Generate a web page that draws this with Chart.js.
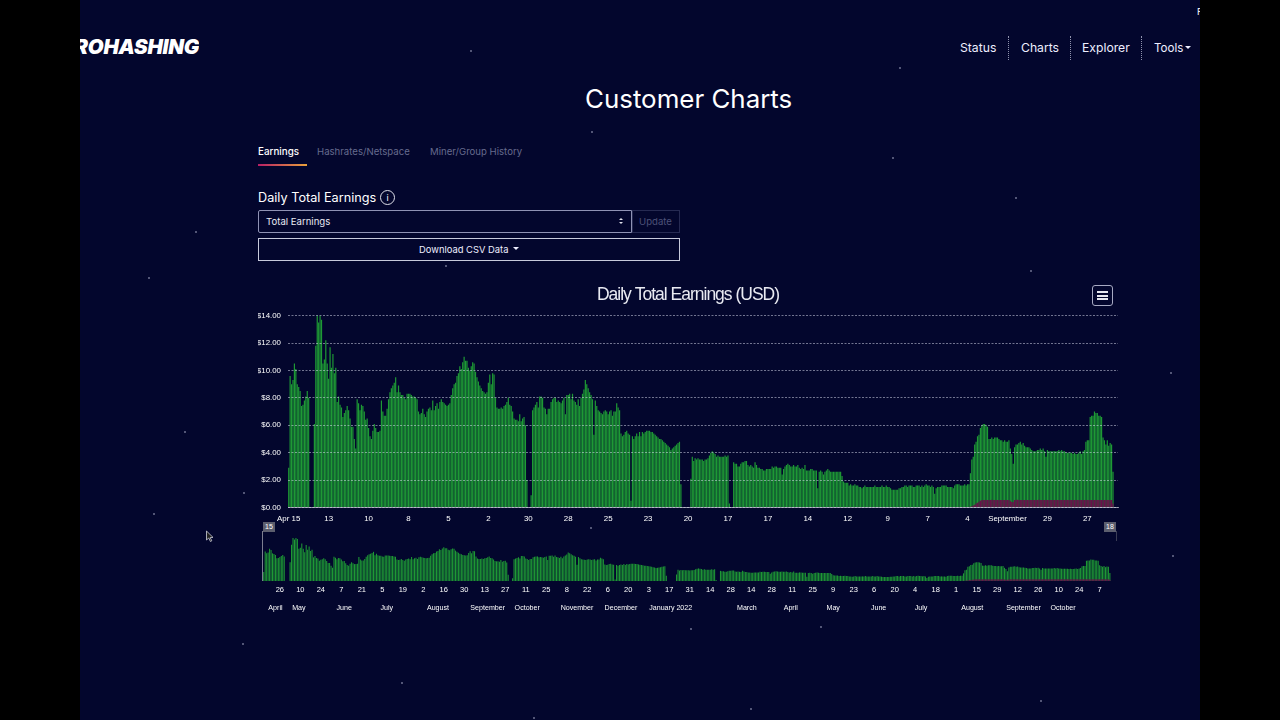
<!DOCTYPE html>
<html>
<head>
<meta charset="utf-8">
<script src="https://cdn.jsdelivr.net/npm/chart.js@4"></script>
<style>
html,body{margin:0;padding:0;width:1280px;height:720px;overflow:hidden;background:#000}
#page{position:absolute;left:0;top:0;width:1280px;height:720px;background:#03062d;font-family:Inter,"Noto Sans",sans-serif;color:#fff}
.bar{position:absolute;top:0;width:80px;height:720px;background:#000;z-index:9}
.t{position:absolute;white-space:nowrap;line-height:1}
.sep{position:absolute;top:36px;height:24px;border-left:1px dotted #8f92ad}
.star{position:absolute;width:2px;height:2px;border-radius:50%;background:#6f7290}
.box{position:absolute;box-sizing:border-box}
canvas{position:absolute;display:block}
.handle{position:absolute;top:522px;width:12px;height:10px;background:#5c5e6e;color:#fff;font:7px "Liberation Sans",sans-serif;text-align:center;line-height:10px}
.hline{position:absolute;top:531px;width:1px;background:#7c7e90}
</style>
</head>
<body>
<div id="page">
  <div id="stars"></div>
  <div class="t" style="left:79px;top:37px;font-size:20.5px;font-weight:900;font-style:italic;letter-spacing:-.25px;width:120px;overflow:hidden;direction:rtl;text-align:left">ROHASHING</div>
  <div class="t" style="left:1197px;top:7px;font-size:9px">F</div>
  <div class="t" style="left:960px;top:42px;font-size:12.2px;color:#eef">Status</div>
  <div class="sep" style="left:1008px"></div>
  <div class="t" style="left:1021px;top:42px;font-size:12.2px;color:#eef">Charts</div>
  <div class="sep" style="left:1070px"></div>
  <div class="t" style="left:1082px;top:42px;font-size:12.2px;color:#eef">Explorer</div>
  <div class="sep" style="left:1141px"></div>
  <div class="t" style="left:1154px;top:42.5px;font-size:11.6px;color:#eef">Tools</div>
  <div class="box" style="left:1185px;top:46px;border:3px solid transparent;border-top-color:#eef;border-bottom:0"></div>

  <div class="t" style="left:585px;top:86px;font-size:25.9px;font-weight:400">Customer Charts</div>

  <div class="t" style="left:258px;top:147px;font-size:9.8px;font-weight:500">Earnings</div>
  <div class="t" style="left:317px;top:147px;font-size:9.6px;color:#666b8e">Hashrates/Netspace</div>
  <div class="t" style="left:430px;top:147px;font-size:9.6px;color:#666b8e">Miner/Group History</div>
  <div class="box" style="left:258px;top:164px;width:49px;height:2px;background:linear-gradient(90deg,#b81f66,#e9a13b)"></div>

  <div class="t" style="left:258px;top:192px;font-size:12.7px">Daily Total Earnings</div>
  <div class="box t" style="left:380px;top:190px;width:15px;height:15px;border:1px solid #dfe0ea;border-radius:50%;font-size:9px;text-align:center;line-height:13px">i</div>

  <div class="box" style="left:258px;top:210px;width:374px;height:23px;border:1px solid #8f92b4;border-radius:2px 0 0 2px"></div>
  <div class="t" style="left:266px;top:217px;font-size:9.6px;color:#e8e9f2">Total Earnings</div>
  <div class="box" style="left:619px;top:218px;border:2.5px solid transparent;border-bottom-color:#dfe0ea;border-top:0"></div>
  <div class="box" style="left:619px;top:222px;border:2.5px solid transparent;border-top-color:#dfe0ea;border-bottom:0"></div>
  <div class="box" style="left:632px;top:210px;width:48px;height:23px;border:1px solid #262a52"></div>
  <div class="t" style="left:639px;top:217px;font-size:9.6px;color:#4d5178">Update</div>

  <div class="box" style="left:258px;top:238px;width:422px;height:23px;border:1px solid #c8cadc"></div>
  <div class="t" style="left:419px;top:245px;font-size:9.4px;color:#eef">Download CSV Data</div>
  <div class="box" style="left:513px;top:247px;border:3px solid transparent;border-top-color:#eef;border-bottom:0"></div>

  <canvas id="mainChart" style="left:250px;top:280px;width:876px;height:245px" width="876" height="245"></canvas>

  <div class="box" style="left:1092px;top:285px;width:21px;height:21px;border:1px solid #a7a9c2;border-radius:3px"></div>
  <div class="box" style="left:1097px;top:291px;width:11px;height:2px;background:#e6e7f0"></div>
  <div class="box" style="left:1097px;top:294.5px;width:11px;height:2px;background:#e6e7f0"></div>
  <div class="box" style="left:1097px;top:298px;width:11px;height:2px;background:#e6e7f0"></div>

  <canvas id="navChart" style="left:263px;top:530px;width:852px;height:90px" width="852" height="90"></canvas>
  <div class="hline" style="left:262px;height:50px"></div>
  <div class="hline" style="left:1116px;height:10px;background:#3a3c55"></div>
  <div class="handle" style="left:263px">15</div>
  <div class="handle" style="left:1104px">18</div>

  <svg style="position:absolute;left:205px;top:530px" width="10" height="14" viewBox="0 0 10 14">
    <path d="M1.5 1 L1.5 10 L3.8 8 L5.4 11.5 L6.8 10.8 L5.2 7.6 L8 7.4 Z" fill="#222" stroke="#cfd0da" stroke-width=".8"/>
  </svg>

  <div class="bar" style="left:0"></div>
  <div class="bar" style="left:1200px"></div>
</div>
<script>
// Daily total earnings in USD, one array per 28-day stretch between main-axis ticks
const earningsApr21 = [2.9,9.6,9.0,9.3,10.5,10.1,9.0,8.8,8.5,7.4,7.5,7.8,8.1,8.5,8.0,0,0,0,6.1,11.8,14.0,13.5,14.0,13.7,10.5,10.8,12.2,10.5];
const earningsMay21 = [9.4,11.7,10.2,11.2,9.8,10.2,7.7,8.1,7.5,7.3,6.6,6.9,7.1,7.4,7.1,6.5,5.9,5.9,5.0,4.3,7.9,7.6,7.1,7.5,7.4,7.0,6.4,6.5];
const earningsJun21 = [5.8,5.2,5.0,5.6,6.1,5.8,5.5,5.5,5.6,7.8,7.0,6.7,6.7,7.2,7.9,8.4,8.7,8.9,9.1,9.5,8.4,8.9,8.4,8.2,8.2,8.0,7.9,8.3];
const earningsJul21 = [8.3,8.3,8.2,8.1,8.1,8.0,7.9,7.0,6.8,6.9,7.2,6.8,6.6,7.0,7.2,7.3,7.1,7.8,7.1,7.4,7.6,7.2,7.7,7.9,7.7,7.6,7.5,7.4];
const earningsAug21 = [7.5,7.6,8.2,8.7,9.0,9.1,9.6,9.8,10.3,10.1,10.6,11.0,10.7,10.7,10.2,10.0,10.3,10.6,10.5,9.9,9.5,9.2,8.9,8.7,8.5,8.4,8.3,8.4];
const earningsSep21 = [9.1,9.7,9.0,9.8,9.7,8.0,7.3,7.2,7.2,7.3,7.2,7.4,7.5,7.7,8.0,7.5,7.4,7.0,6.5,6.4,6.4,6.3,6.8,6.3,6.5,6.6,6.0,2.0];
const earningsOct21 = [0,0,0.9,7.1,7.3,7.5,7.7,7.3,8.1,8.1,8.0,7.3,7.2,6.8,7.2,7.2,7.7,7.9,8.0,8.0,7.7,7.8,7.7,7.6,7.8,8.0,6.8,8.2];
const earningsNov21 = [8.2,8.3,7.9,8.3,7.8,7.7,7.5,7.9,7.4,8.0,8.3,8.6,9.3,9.0,8.7,8.4,8.2,7.9,5.3,7.8,7.4,7.1,7.0,6.9,6.8,7.0,7.1,7.0];
const earningsDec21 = [6.8,7.0,7.1,6.7,7.0,7.0,7.6,7.3,7.1,5.4,5.2,5.3,5.5,5.6,5.4,5.3,0.5,5.2,5.0,5.2,5.4,5.2,5.5,5.2,5.5,5.4,5.5,5.6];
const earningsJan22 = [5.6,5.6,5.5,5.5,5.4,5.3,5.2,5.1,5.0,5.0,4.9,4.8,4.7,4.6,4.5,4.4,4.2,4.3,4.4,4.5,4.6,4.7,4.8,1.7,0,0,0,0];
const earningsFeb22 = [0,0,2.1,3.7,3.4,3.6,3.5,3.6,3.5,3.5,3.5,3.4,3.5,3.5,3.6,3.8,4.0,4.1,4.0,3.9,3.7,3.8,3.7,3.7,3.7,3.7,3.8,3.7];
const earningsMar22 = [3.8,0.3,0,0,3.3,3.2,3.2,3.0,3.0,3.2,3.3,3.3,3.4,3.4,3.1,3.0,3.1,3.0,2.9,3.3,3.1,2.9,2.9,2.8,2.8,2.7,2.7,2.8];
const earningsApr22 = [2.8,2.8,2.8,3.0,2.9,3.0,3.0,2.9,2.9,2.9,2.4,2.8,3.0,3.1,3.2,3.1,3.0,3.0,3.1,3.0,3.0,3.1,2.9,2.8,2.9,2.8,3.1,2.7];
const earningsMay22 = [2.7,2.7,2.8,2.8,2.7,2.7,2.7,1.4,2.6,2.7,2.6,2.4,2.6,2.7,2.8,2.7,2.6,2.6,2.6,2.6,2.6,2.6,2.6,2.6,2.3,1.9,1.8,1.8];
const earningsJun22 = [1.8,1.6,1.7,1.6,1.6,1.7,1.6,1.6,1.5,1.5,1.4,1.5,1.6,1.5,1.5,1.5,1.5,1.5,1.5,1.6,1.5,1.5,1.5,1.5,1.6,1.5,1.5,1.6];
const earningsJul22 = [1.5,1.5,1.4,1.3,1.3,1.3,1.3,1.3,1.4,1.4,1.5,1.5,1.6,1.6,1.5,1.6,1.6,1.6,1.5,1.5,1.6,1.6,1.6,1.5,1.6,1.5,1.6,1.7];
const earningsAug22 = [1.6,1.6,1.5,1.6,1.5,1.0,1.4,1.5,1.5,1.5,1.6,1.6,1.6,1.6,1.5,1.5,1.5,1.5,1.4,1.6,1.7,1.7,1.7,1.6,1.6,1.6,1.7,1.6];
const earningsSep22 = [1.7,1.7,2.5,3.5,3.7,4.6,4.8,5.2,5.3,5.8,6.0,6.1,6.1,6.0,5.9,5.0,5.0,5.1,5.0,5.1,5.1,5.1,5.0,4.9,4.9,4.8,4.9,4.8];
const earningsOct22 = [4.8,4.9,4.3,3.9,3.2,4.4,4.6,4.6,4.7,4.8,4.6,4.7,4.5,4.4,4.4,4.4,4.3,4.2,4.1,4.1,4.1,4.2,4.2,4.3,4.2,4.3,4.1,3.7];
const earningsNov22 = [4.2,4.1,4.1,4.1,4.1,4.1,4.1,4.1,4.2,4.1,4.2,4.1,4.1,4.0,4.0,4.0,4.0,4.0,3.9,4.0,3.9,3.9,4.0,4.1,3.9,4.1,4.2,4.8];
const earningsDec22 = [4.9,4.9,6.6,6.7,6.7,7.0,6.9,6.9,6.7,6.7,6.6,5.1,4.9,4.6,4.9,4.5,4.7,4.6,2.6];

// Second (maroon) series starts in the eighteenth stretch
const redLeadDays = 476;
const redEarningsA = [0,0,0.05,0.1,0.15,0.2,0.3,0.35,0.42,0.5,0.55,0.55,0.55,0.55,0.55,0.55,0.55,0.56,0.55,0.55,0.55,0.55,0.54,0.55,0.55,0.55,0.55,0.55];
const redEarningsB = [0.55,0.55,0.5,0.4,0.4,0.55,0.55,0.56,0.55,0.55,0.55,0.55,0.55,0.55,0.55,0.55,0.55,0.55,0.55,0.55,0.55,0.55,0.56,0.55,0.55,0.55,0.55,0.55];
const redEarningsC = [0.55,0.55,0.55,0.55,0.55,0.55,0.55,0.55,0.55,0.55,0.55,0.55,0.55,0.55,0.55,0.55,0.55,0.55,0.55,0.55,0.55,0.55,0.55,0.55,0.55,0.55,0.55,0.55];
const redEarningsD = [0.55,0.55,0.55,0.55,0.55,0.55,0.55,0.55,0.55,0.55,0.55,0.55,0.55,0.55,0.55,0.55,0.55,0.55,0.3];

const mainTickLabels = ['Apr 15','13','10','8','5','2','30','28','25','23','20','17','17','14','12','9','7','4','September','29','27'];
const mainTickStep = 28;
const navTickLabels = ['26','10','24','7','21','5','19','2','16','30','13','27','11','25','8','22','6','20','3','17','31','14','28','14','28','11','25','9','23','6','20','4','18','1','15','29','12','26','10','24','7'];
const navTickFirst = 11;
const navTickStep = 14;
const navMonthLabels = ['April','May','June','July','August','September','October','November','December','January 2022','March','April','May','June','July','August','September','October'];
const navMonthDays = [8,24,55,84,119,153,180,214,244,278,330,360,389,420,449,484,519,546];
const yTickFormat = v => '$' + v.toFixed(2);

const totalDays = 582;
const startDate = new Date(Date.UTC(2021,3,15));
const days = [];
for (let i = 0; i < totalDays; i++) {
  days.push(new Date(startDate.getTime() + i*86400000).toISOString().slice(0,10));
}
const earnings = [].concat(earningsApr21,earningsMay21,earningsJun21,earningsJul21,earningsAug21,earningsSep21,earningsOct21,earningsNov21,earningsDec21,earningsJan22,earningsFeb22,earningsMar22,earningsApr22,earningsMay22,earningsJun22,earningsJul22,earningsAug22,earningsSep22,earningsOct22,earningsNov22,earningsDec22);
const red = new Array(redLeadDays).fill(null).concat(redEarningsA,redEarningsB,redEarningsC,redEarningsD);

const GREEN = '#1e9935', RED = '#6b0f4c';
const labelFont = {family:'"Liberation Sans",Arial,sans-serif', size:7.9};
Chart.defaults.animation = false;
Chart.defaults.responsive = false;

function barSets(catPct){
  return [
    {label:'Maroon',data:red,backgroundColor:RED,order:1,barPercentage:1,categoryPercentage:catPct,grouped:false},
    {label:'Earnings',data:earnings,backgroundColor:GREEN,order:2,barPercentage:1,categoryPercentage:catPct,grouped:false}
  ];
}

const thinTitle = {id:'thinTitle',afterLayout(chart){
  const tb = chart.titleBlock;
  if (!tb || tb._thin) return;
  const draw = tb.draw;
  tb.draw = function(){chart.ctx.save();chart.ctx.letterSpacing='-1px';draw.call(this);chart.ctx.restore();};
  tb._thin = true;
}};
const noEdgePadding = a => {a.paddingLeft = 0; a.paddingRight = 0;};

new Chart(document.getElementById('mainChart'),{
  type:'bar',
  data:{labels:days,datasets:barSets(0.84)},
  plugins:[thinTitle],
  options:{
    devicePixelRatio:1,
    layout:{padding:{left:8,right:8,top:0,bottom:0}},
    plugins:{
      legend:{display:false},tooltip:{enabled:false},
      title:{display:true,text:'Daily Total Earnings (USD)',color:'#e9eaf2',
        font:{family:'"Liberation Sans",Arial,sans-serif',size:17.5,weight:'normal'},padding:{top:5,bottom:9.6}}
    },
    scales:{
      x:{type:'category',offset:true,
        grid:{display:false,drawTicks:false},
        border:{display:true,color:'rgba(255,255,255,.55)',dash:[1,2]},
        afterBuildTicks:a=>{a.ticks=mainTickLabels.map((_,i)=>({value:i*mainTickStep}));},
        afterFit:a=>{a.height=17.5;noEdgePadding(a);},
        ticks:{autoSkip:false,maxRotation:0,minRotation:0,padding:7,color:'#fff',font:labelFont,
          callback:(v,i)=>mainTickLabels[i]}
      },
      y:{min:0,max:14,
        grid:{color:'rgba(225,228,245,.5)',lineWidth:1,drawTicks:false,z:1},
        border:{display:false,dash:[2,1.5]},
        afterFit:a=>{a.width=30;},
        ticks:{stepSize:2,padding:7,color:'#fff',font:labelFont,callback:yTickFormat}
      }
    }
  }
});

new Chart(document.getElementById('navChart'),{
  type:'bar',
  data:{labels:days,datasets:barSets(0.72)},
  options:{
    devicePixelRatio:1,
    layout:{padding:{top:8,left:0,right:0,bottom:0}},
    plugins:{legend:{display:false},tooltip:{enabled:false},title:{display:false}},
    scales:{
      x:{type:'category',offset:true,weight:1,
        grid:{display:false,drawTicks:false},border:{display:false},
        afterBuildTicks:a=>{a.ticks=navTickLabels.map((_,i)=>({value:navTickFirst+i*navTickStep}));},
        afterFit:a=>{a.height=15;noEdgePadding(a);},
        ticks:{autoSkip:false,maxRotation:0,minRotation:0,padding:4,color:'#fff',font:{family:labelFont.family,size:7.5},
          callback:(v,i)=>navTickLabels[i]}
      },
      months:{type:'category',offset:true,position:'bottom',weight:2,
        grid:{display:false,drawTicks:false},border:{display:false},
        afterBuildTicks:a=>{a.ticks=navMonthDays.map(d=>({value:d}));},
        afterFit:a=>{a.height=24;noEdgePadding(a);},
        ticks:{autoSkip:false,maxRotation:0,minRotation:0,padding:8,color:'#fff',font:{family:labelFont.family,size:7.1},
          callback:(v,i)=>navMonthLabels[i]}
      },
      y:{min:0,max:14,display:false}
    }
  }
});

// Background specks of the page
const starSpots = [[470,50],[899,67],[195,231],[1015,197],[1170,372],[1172,555],[820,626],[401,682],[242,643],[533,717],[750,708],[184,431],[153,513],[243,492],[892,157],[1030,270],[445,265],[690,628],[1040,700],[590,527],[591,131],[148,277]];
const sEl = document.getElementById('stars');
starSpots.forEach(p=>{const d=document.createElement('div');d.className='star';d.style.left=p[0]+'px';d.style.top=p[1]+'px';sEl.appendChild(d);});
</script>
</body>
</html>
